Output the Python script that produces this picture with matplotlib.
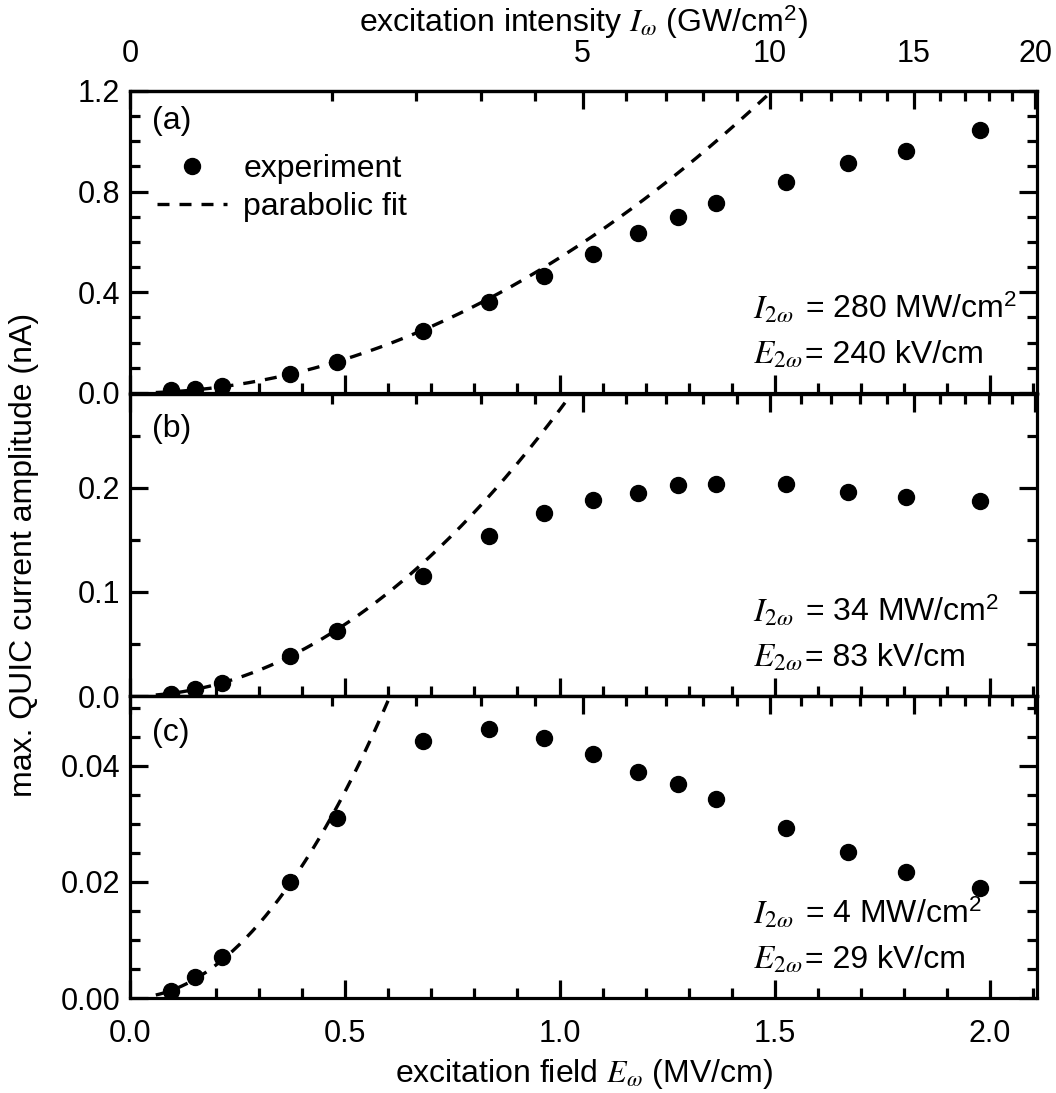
import numpy as np
import matplotlib
matplotlib.use('Agg')
import matplotlib.pyplot as plt
from matplotlib.ticker import MultipleLocator, FixedLocator

plt.rcParams['font.family'] = ['Liberation Sans', 'DejaVu Sans']
plt.rcParams['mathtext.fontset'] = 'stix'
plt.rcParams['font.size'] = 22

# excitation field (MV/cm), shared by all three runs
field = [0.095, 0.151, 0.213, 0.372, 0.481, 0.682, 0.835, 0.964,
         1.077, 1.182, 1.275, 1.364, 1.526, 1.671, 1.806, 1.978]

# max. QUIC current amplitude (nA) for the three 2w intensities
amp_a = [0.012, 0.016, 0.028, 0.076, 0.122, 0.248, 0.360, 0.464,
         0.553, 0.634, 0.700, 0.754, 0.839, 0.914, 0.961, 1.046]
amp_b = [0.0022, 0.0071, 0.0126, 0.0385, 0.062, 0.1155, 0.1537, 0.176,
         0.188, 0.195, 0.203, 0.204, 0.204, 0.196, 0.191, 0.187]
amp_c = [0.0012, 0.0036, 0.0070, 0.020, 0.031, 0.0443, 0.0463, 0.0448,
         0.0420, 0.0390, 0.0368, 0.0342, 0.0292, 0.0251, 0.0217, 0.0190]

# parabolic fits  j = k * E^2
fit_k = [0.538, 0.275, 0.142]

panel_tags = ['(a)', '(b)', '(c)']
I2w_text = ['280 MW/cm', '34 MW/cm', '4 MW/cm']
E2w_text = ['240 kV/cm', '83 kV/cm', '29 kV/cm']
ylims = [(0, 1.2), (0, 0.29), (0, 0.052)]
ymajor = [0.4, 0.1, 0.02]
yminor = [0.1, 0.05, 0.005]
yfmt = ['%.1f', '%.1f', '%.2f']
tag_y = [0.9, 0.883, 0.876]

# top axis: intensity (GW/cm^2) ~ E^2
c_EI = 0.4709
def E2I(E):
    return (np.asarray(E) / c_EI) ** 2
def I2E(I):
    return c_EI * np.sqrt(np.abs(I))

fig = plt.figure(figsize=(10.56, 10.93), dpi=100)
L, W = 130 / 1056, 907 / 1056
bottoms = [700 / 1093, 397 / 1093, 95 / 1093]
H = 302 / 1093

lw = 2.3
fs_tick = 22
fs = 23
axes = []
for i in range(3):
    ax = fig.add_axes([L, bottoms[i], W, H])
    axes.append(ax)
    amp = [amp_a, amp_b, amp_c][i]
    Efit = np.linspace(0.06, 2.1, 400)
    ax.plot(Efit, fit_k[i] * Efit ** 2, color='black', lw=2.4, ls=(0, (3.6, 3.0)),
            label='parabolic fit')
    ax.plot(field, amp, 'o', color='black', ms=11.5, label='experiment', zorder=3)

    ax.set_xlim(0, 2.11)
    ax.set_ylim(*ylims[i])
    ax.xaxis.set_major_locator(MultipleLocator(0.5))
    ax.xaxis.set_minor_locator(MultipleLocator(0.1))
    ax.yaxis.set_major_locator(MultipleLocator(ymajor[i]))
    ax.yaxis.set_minor_locator(MultipleLocator(yminor[i]))
    ax.yaxis.set_major_formatter(plt.FormatStrFormatter(yfmt[i]))
    ax.xaxis.set_major_formatter(plt.FormatStrFormatter('%.1f'))
    ax.tick_params(which='both', direction='in', width=lw, top=False, right=True,
                   labelsize=fs_tick)
    ax.tick_params(which='major', length=13)
    ax.tick_params(which='minor', length=7)
    ax.tick_params(axis='y', pad=7)
    ax.tick_params(axis='x', pad=15)
    if i < 2:
        ax.tick_params(labelbottom=False)
    for sp in ax.spines.values():
        sp.set_linewidth(lw)

    sec = ax.secondary_xaxis('top', functions=(E2I, I2E))
    sec.xaxis.set_major_locator(FixedLocator([0, 5, 10, 15, 20]))
    sec.xaxis.set_minor_locator(FixedLocator(range(0, 21)))
    sec.tick_params(which='both', direction='in', width=lw, labelsize=fs_tick, pad=16)
    sec.tick_params(which='major', length=13)
    sec.tick_params(which='minor', length=7)
    sec.spines['top'].set_linewidth(lw)
    if i > 0:
        sec.tick_params(labeltop=False)
    else:
        sec.set_xlabel(r'excitation intensity $I_{\omega}$ (GW/cm$^{\mathregular{2}}$)',
                       fontsize=fs, labelpad=5)

    ax.text(0.024, tag_y[i], panel_tags[i], transform=ax.transAxes,
            fontsize=fs, va='center', ha='left')
    # I_2w / E_2w annotation, "=" signs lined up
    ax.text(0.687, 0.275, r'$I_{2\omega}$', transform=ax.transAxes,
            fontsize=fs + 1, va='center', ha='left')
    ax.text(0.744, 0.275, '= ' + I2w_text[i] + r'$^{\mathregular{2}}$',
            transform=ax.transAxes, fontsize=fs, va='center', ha='left')
    ax.text(0.687, 0.125, r'$E_{2\omega}$', transform=ax.transAxes,
            fontsize=fs + 1, va='center', ha='left')
    ax.text(0.744, 0.125, '= ' + E2w_text[i],
            transform=ax.transAxes, fontsize=fs, va='center', ha='left')

h, l = axes[0].get_legend_handles_labels()
axes[0].legend(h[::-1], l[::-1], loc='upper left', frameon=False, fontsize=fs,
               bbox_to_anchor=(0.03, 0.79), borderaxespad=0, borderpad=0,
               handlelength=2.2, handletextpad=0.5, labelspacing=0.25)

axes[2].set_xlabel(r'excitation field $E_{\omega}$ (MV/cm)', fontsize=fs, labelpad=6)
fig.text(0.023, 1 - 555 / 1093, 'max. QUIC current amplitude (nA)',
         rotation=90, ha='center', va='center', fontsize=fs)

fig.savefig('out.png', dpi=100)
